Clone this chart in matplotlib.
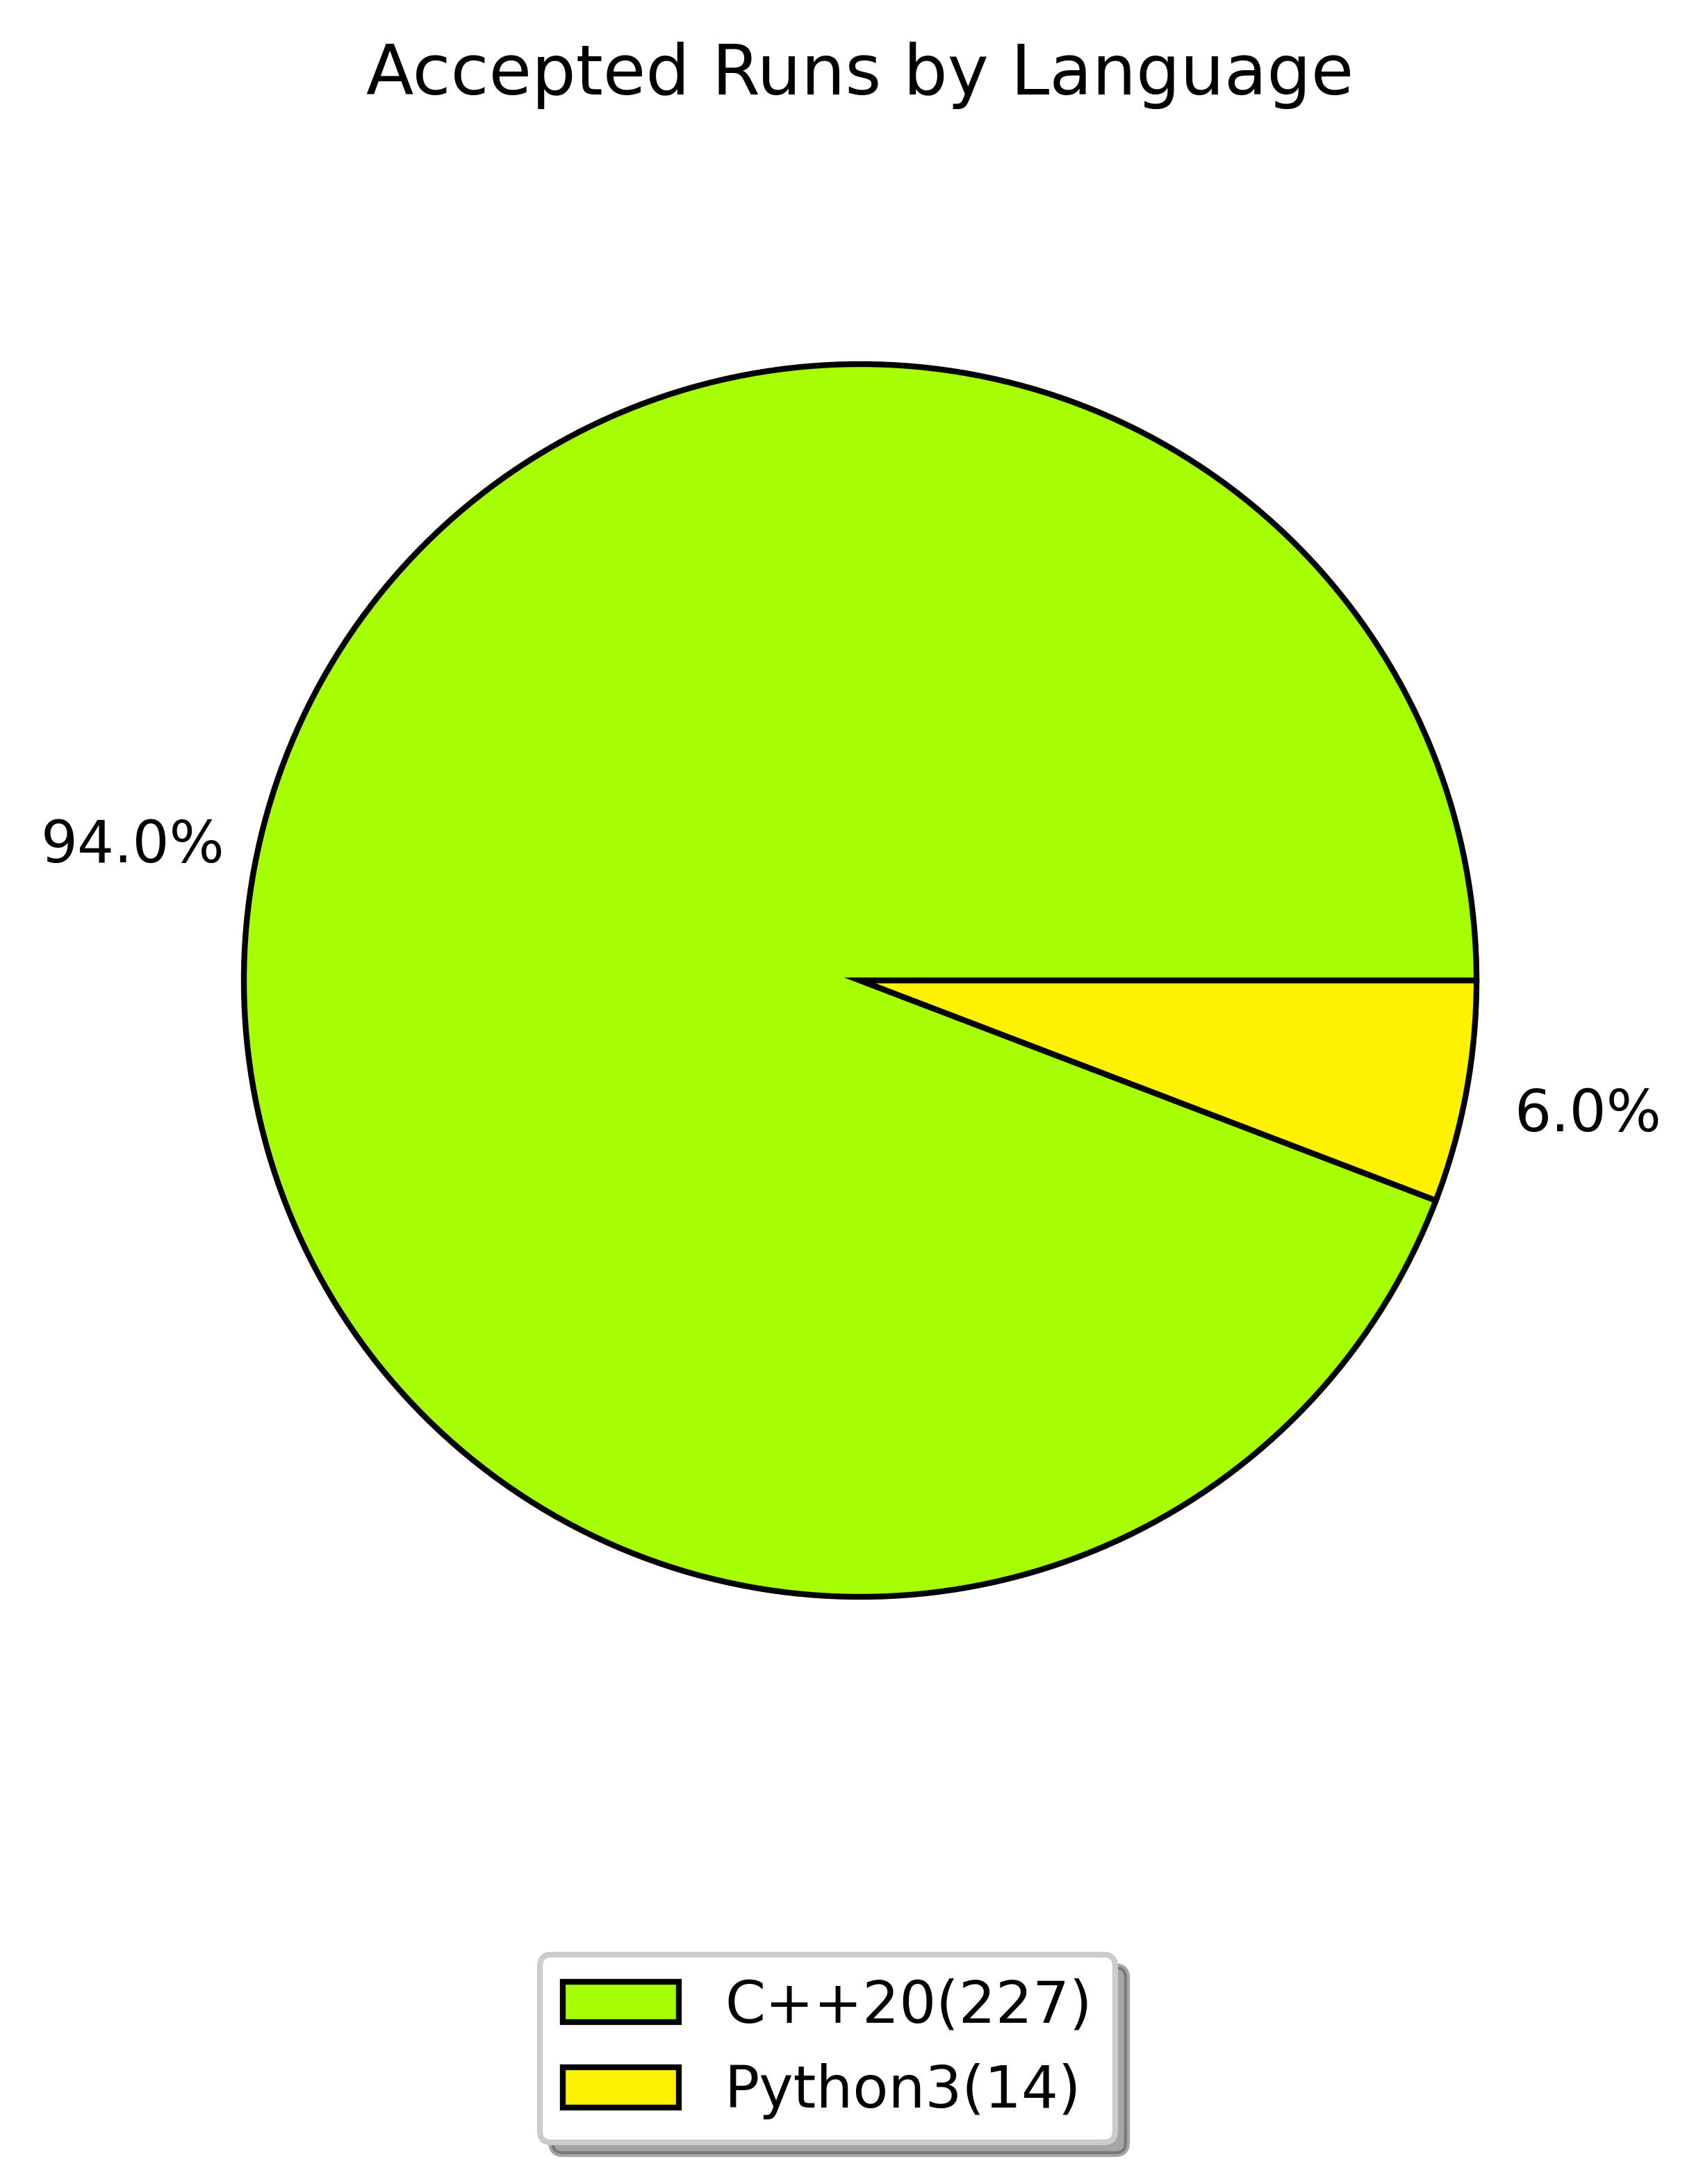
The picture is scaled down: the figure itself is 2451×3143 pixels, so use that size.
import matplotlib
matplotlib.use("Agg")
import matplotlib.pyplot as plt

# Accepted runs per language.
languages = ["C++20", "Python3"]
counts = [227, 14]
colors = ["#a6ff00", "#fff200"]

W, H, DPI = 2451, 3143, 600


def pct_label(p):
    # the reference shows whole percents with one trailing decimal
    return f"{round(p):.1f}%"


def main():
    fig = plt.figure(figsize=(W / DPI, H / DPI), dpi=DPI)

    # pie centre (1238, 1411) px, radius 887 px, limits +-1.25
    cx, cy, r = 1238, 1411, 887
    side = 2.5 * r
    ax = fig.add_axes([(cx - side / 2) / W, (H - cy - side / 2) / H,
                       side / W, side / H])

    wedges, _, _ = ax.pie(
        counts,
        colors=colors,
        autopct=pct_label,
        pctdistance=1.2,
        startangle=0,
        wedgeprops=dict(edgecolor="black", linewidth=1.0),
        textprops=dict(fontsize=10),
    )
    ax.set_xlim(-1.25, 1.25)
    ax.set_ylim(-1.25, 1.25)
    ax.set_aspect("equal")
    ax.set_title("Accepted Runs by Language", fontsize=12, pad=20)

    labels = [f"{lang}({n})" for lang, n in zip(languages, counts)]
    ax.legend(wedges, labels, loc="upper center",
              bbox_to_anchor=(1191 / W, 1 - 2813 / H),
              bbox_transform=fig.transFigure, borderaxespad=0,
              shadow=True, fontsize=10)

    fig.savefig("out.png", dpi=DPI)
    plt.close(fig)


if __name__ == "__main__":
    main()
